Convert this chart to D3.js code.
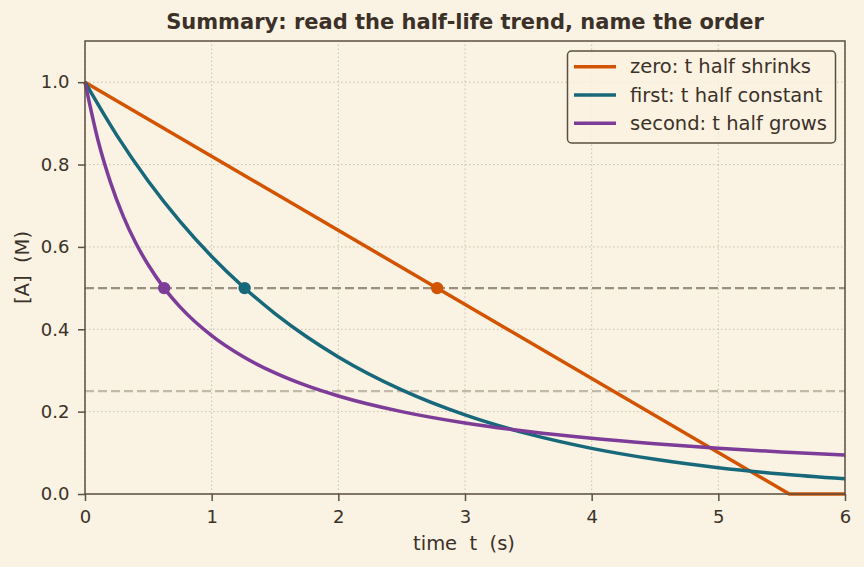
<!DOCTYPE html>
<html><head><meta charset="utf-8">
<script src="https://cdn.jsdelivr.net/npm/d3@7"></script>
<style>body{margin:0;background:#faf2e2;} svg{display:block;font-family:"DejaVu Sans",sans-serif;} text{white-space:pre;}</style>
</head><body><svg id="c" width="864" height="567"></svg>
<script>
const seriesNames = ["zero: t half shrinks","first: t half constant","second: t half grows"];
const seriesColors = ["#d35400","#17687a","#7d3c98"];
const zeroT = [0, 5.56, 6];
const zeroA = [1.0, 0.0, 0.0];
const firstT = [0,0.25,0.5,0.75,1.0,1.25,1.5,1.75,2.0,2.5,3.0,3.5,4.0,4.5,5.0,5.5,6.0];
const firstA = [1.0,0.8715,0.7596,0.6620,0.5769,0.5028,0.4382,0.3819,0.3329,0.2528,0.1920,0.1459,0.1108,0.0842,0.0639,0.0486,0.0369];
const secondT = [0,0.1,0.2,0.3,0.4,0.5,0.625,0.75,1.0,1.25,1.5,1.75,2.0,2.5,3.0,3.5,4.0,4.5,5.0,5.5,6.0];
const secondA = [1.0,0.862,0.758,0.676,0.610,0.556,0.5,0.4545,0.3846,0.3333,0.294,0.263,0.238,0.2,0.1724,0.1515,0.1351,0.122,0.111,0.102,0.0943];
const halfLifeT = [2.78, 1.26, 0.625];
const halfLifeA = [0.5, 0.5, 0.5];
const refLevels = [0.5, 0.25];
const xTicks = [0,1,2,3,4,5,6];
const yTicks = [0,0.2,0.4,0.6,0.8,1.0];

const svg = d3.select("#c");
const W=864,H=567, m={l:85,r:19,t:41,b:73};
svg.append("rect").attr("width",W).attr("height",H).attr("fill","#faf2e2");
const x = d3.scaleLinear().domain([0,6]).range([m.l,W-m.r]);
const y = d3.scaleLinear().domain([0,1.1]).range([H-m.b,m.t]);
const axisCol="#5b4f42", textCol="#3b3128";

// grid
const g = svg.append("g");
xTicks.forEach(t=>g.append("line").attr("x1",x(t)).attr("x2",x(t)).attr("y1",y(0)).attr("y2",y(1.1))
  .attr("stroke","#c9bfae").attr("stroke-width",1).attr("stroke-dasharray","1.5,2.5"));
yTicks.forEach(t=>g.append("line").attr("x1",x(0)).attr("x2",x(6)).attr("y1",y(t)).attr("y2",y(t))
  .attr("stroke","#c9bfae").attr("stroke-width",1).attr("stroke-dasharray","1.5,2.5"));

// reference lines
const refCols=["#9a9080","#c2baa9"];
refLevels.forEach((v,i)=>svg.append("line").attr("x1",x(0)).attr("x2",x(6)).attr("y1",y(v)).attr("y2",y(v))
  .attr("stroke",refCols[i]).attr("stroke-width",2.2).attr("stroke-dasharray","9,4"));

// curves
const line = d3.line().x(d=>x(d[0])).y(d=>y(d[1]));
const smooth = d3.line().x(d=>x(d[0])).y(d=>y(d[1])).curve(d3.curveMonotoneX);
const series = [
  {pts: d3.zip(zeroT,zeroA), gen: line},
  {pts: d3.zip(firstT,firstA), gen: smooth},
  {pts: d3.zip(secondT,secondA), gen: smooth}
];
series.forEach((s,i)=>svg.append("path").attr("d",s.gen(s.pts)).attr("fill","none")
  .attr("stroke",seriesColors[i]).attr("stroke-width",3.5).attr("stroke-linejoin","round"));

halfLifeT.forEach((t,i)=>svg.append("circle").attr("cx",x(t)).attr("cy",y(halfLifeA[i])).attr("r",6.2).attr("fill",seriesColors[i]));

// axes frame
svg.append("rect").attr("x",x(0)).attr("y",y(1.1)).attr("width",x(6)-x(0)).attr("height",y(0)-y(1.1))
  .attr("fill","none").attr("stroke",axisCol).attr("stroke-width",1.5);

const xa = svg.append("g").attr("transform",`translate(0,${y(0)})`)
  .call(d3.axisBottom(x).tickValues(xTicks).tickFormat(d3.format("d")).tickSize(7).tickPadding(9));
const ya = svg.append("g").attr("transform",`translate(${x(0)},0)`)
  .call(d3.axisLeft(y).tickValues(yTicks).tickFormat(d3.format(".1f")).tickSize(7).tickPadding(8.5));
[xa,ya].forEach(a=>{
  a.attr("font-size",18).attr("font-family","DejaVu Sans");
  a.select(".domain").remove();
  a.selectAll(".tick line").attr("stroke",axisCol).attr("stroke-width",1.5);
  a.selectAll(".tick text").attr("fill",textCol);
});

svg.append("text").attr("x",464).attr("y",550).attr("text-anchor","middle").attr("fill",textCol)
  .attr("font-size",19.5).text("time  t  (s)");
svg.append("text").attr("transform",`translate(29,${y(0.55)}) rotate(-90)`).attr("text-anchor","middle")
  .attr("fill",textCol).attr("font-size",19.5).text("[A]  (M)");
svg.append("text").attr("x",465).attr("y",29).attr("text-anchor","middle").attr("fill",textCol)
  .attr("font-size",21).attr("font-weight","bold").text("Summary: read the half-life trend, name the order");

// legend
const lg = svg.append("g");
lg.append("rect").attr("x",567.5).attr("y",51).attr("width",268).attr("height",92).attr("rx",4)
  .attr("fill","#faf2e2").attr("fill-opacity",0.85).attr("stroke",axisCol).attr("stroke-width",1.5);
seriesNames.forEach((n,i)=>{
  const yy = 66.7 + i*28.3;
  lg.append("line").attr("x1",574).attr("x2",616).attr("y1",yy).attr("y2",yy).attr("stroke",seriesColors[i]).attr("stroke-width",3.5);
  lg.append("text").attr("x",630).attr("y",yy+6.5).attr("fill",textCol).attr("font-size",19.5).text(n);
});
</script></body></html>
